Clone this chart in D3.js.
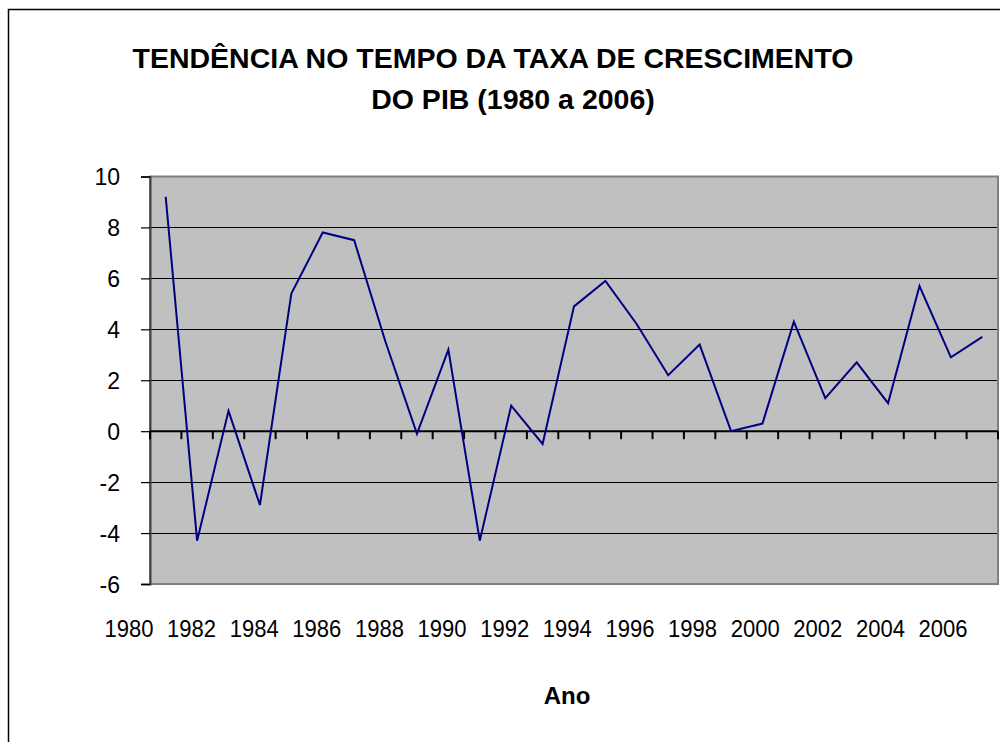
<!DOCTYPE html>
<html>
<head>
<meta charset="utf-8">
<script src="https://cdn.jsdelivr.net/npm/d3@7"></script>
<style>
  html, body { margin: 0; padding: 0; background: #fff; }
  svg { display: block; }
  text { font-family: Arial, "Liberation Sans", sans-serif; fill: #000; }
</style>
</head>
<body>
<script>
// ---- data ----
const years = [1980,1981,1982,1983,1984,1985,1986,1987,1988,1989,1990,1991,1992,1993,1994,1995,1996,1997,1998,1999,2000,2001,2002,2003,2004,2005,2006];
const growth = [9.2,-4.3,0.8,-2.9,5.4,7.8,7.5,3.5,-0.1,3.2,-4.3,1.0,-0.5,4.9,5.9,4.2,2.2,3.4,0.0,0.3,4.3,1.3,2.7,1.1,5.7,2.9,3.7];
const yTicks = [-6,-4,-2,0,2,4,6,8,10];
const xLabels = ["1980","1982","1984","1986","1988","1990","1992","1994","1996","1998","2000","2002","2004","2006"];
const titleLines = ["TENDÊNCIA NO TEMPO DA TAXA DE CRESCIMENTO", "DO PIB (1980 a 2006)"];
const xTitle = "Ano";

// ---- layout ----
const W = 1000, H = 742;
const plot = { left: 150, right: 998, top: 176.5, bottom: 584 };

const svg = d3.select("body").append("svg").attr("width", W).attr("height", H);

// outer chart border
svg.append("rect").attr("x", 8.5).attr("y", 9.5).attr("width", 1200).attr("height", 1000)
  .attr("fill", "#fff").attr("stroke", "#000").attr("stroke-width", 1.5);

const x = d3.scaleBand().domain(years).range([plot.left, plot.right]).padding(0);
const y = d3.scaleLinear().domain([-6, 10]).range([plot.bottom, plot.top]);
const xLab = d3.scalePoint().domain(xLabels).range([129, 943]);

// plot background
svg.append("rect").attr("x", plot.left).attr("y", plot.top)
  .attr("width", plot.right - plot.left).attr("height", plot.bottom - plot.top)
  .attr("fill", "#C0C0C0");

// gridlines
svg.append("g").selectAll("line").data(yTicks.filter(d => d !== 0 && d !== -6 && d !== 10)).join("line")
  .attr("x1", plot.left).attr("x2", plot.right)
  .attr("y1", d => Math.round(y(d)) + 0.5).attr("y2", d => Math.round(y(d)) + 0.5)
  .attr("stroke", "#000").attr("stroke-width", 1);

// plot border (grey)
svg.append("rect").attr("x", plot.left).attr("y", plot.top)
  .attr("width", plot.right - plot.left).attr("height", plot.bottom - plot.top)
  .attr("fill", "none").attr("stroke", "#808080").attr("stroke-width", 2);

// y axis
const yAxis = d3.axisLeft(y).tickValues(yTicks).tickSize(9).tickPadding(21).tickFormat(d => String(d));
const gy = svg.append("g").attr("transform", `translate(${plot.left},0)`).call(yAxis);
gy.select(".domain").attr("stroke", "#404040").attr("stroke-width", 2);
gy.selectAll(".tick line").attr("stroke", "#000").attr("stroke-width", 1.2);
gy.selectAll(".tick text").attr("font-size", 23).attr("dy", "0.35em")
  .style("font-family", "Arial, 'Liberation Sans', sans-serif").attr("fill", "#000");

// zero axis with category-boundary ticks
const y0 = y(0);
svg.append("line").attr("x1", plot.left).attr("x2", plot.right)
  .attr("y1", y0).attr("y2", y0).attr("stroke", "#000").attr("stroke-width", 2);
const boundaries = years.map(d => x(d)).concat([x(years[years.length - 1]) + x.bandwidth()]);
svg.append("g").selectAll("line").data(boundaries).join("line")
  .attr("x1", d => d).attr("x2", d => d)
  .attr("y1", y0).attr("y2", y0 + 8)
  .attr("stroke", "#000").attr("stroke-width", 2);

// series line
const line = d3.line().x((d, i) => x(years[i]) + x.bandwidth() / 2).y(d => y(d));
svg.append("path").datum(growth).attr("d", line)
  .attr("fill", "none").attr("stroke", "#000080").attr("stroke-width", 2)
  .attr("stroke-linejoin", "miter");

// x labels
svg.append("g").selectAll("text").data(xLabels).join("text")
  .attr("x", d => xLab(d)).attr("y", 637)
  .attr("text-anchor", "middle").attr("font-size", 24)
  .attr("textLength", 49).attr("lengthAdjust", "spacingAndGlyphs")
  .text(d => d);

// title
svg.append("text").attr("x", 493).attr("y", 68).attr("text-anchor", "middle")
  .attr("font-size", 28.5).attr("font-weight", "bold").text(titleLines[0]);
svg.append("text").attr("x", 513).attr("y", 109).attr("text-anchor", "middle")
  .attr("font-size", 28.5).attr("font-weight", "bold").text(titleLines[1]);

// x axis title
svg.append("text").attr("x", 567).attr("y", 704).attr("text-anchor", "middle")
  .attr("font-size", 24).attr("font-weight", "bold").text(xTitle);
</script>
</body>
</html>
